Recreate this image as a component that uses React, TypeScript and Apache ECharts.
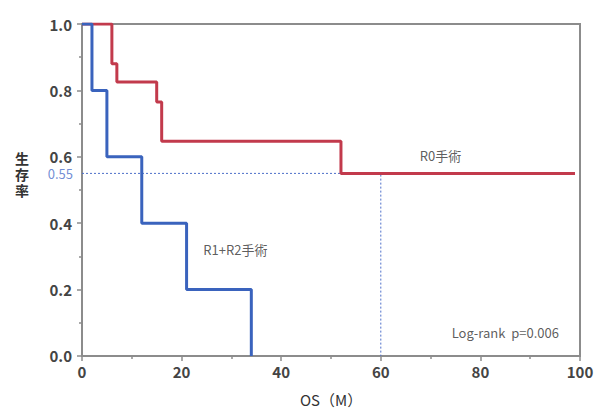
import React, { useEffect, useRef } from "react";
import * as echarts from "echarts";

const r0Times = [0, 6, 7, 15, 16, 52, 99];
const r0Surv = [1.0, 0.88, 0.825, 0.765, 0.647, 0.55, 0.55];
const r12Times = [0, 2, 5, 12, 21, 34];
const r12Surv = [1.0, 0.8, 0.6, 0.4, 0.2, 0.0];
const medianRef = [[0, 0.55], [60, 0.55], [60, 0]];
const xTicks = [0, 20, 40, 60, 80, 100];
const yTicks = [0, 0.2, 0.4, 0.6, 0.8, 1.0];
const annotations = [
  { text: "R0手術", x: 72, y: 0.604 },
  { text: "R1+R2手術", x: 30.8, y: 0.32 },
  { text: "Log-rank  p=0.006", x: 85, y: 0.071 },
];

const FONT = "'Noto Sans CJK JP', 'Noto Sans', sans-serif";
const RED = "#c23a4c";
const BLUE = "#3a63bd";
const DASH = "#4d6fc9";
const AXIS = "#8c8c8c";

export default function App() {
  const ref = useRef<HTMLDivElement>(null);
  useEffect(() => {
    if (!ref.current) return;
    const chart = echarts.init(ref.current, null, { renderer: "svg" });
    const pair = (t: number[], s: number[]) => t.map((v, i) => [v, s[i]]);
    const xMin = xTicks[0];
    const xMax = xTicks[xTicks.length - 1];
    const yMin = yTicks[0];
    const yMax = yTicks[yTicks.length - 1];
    chart.setOption({
      animation: false,
      textStyle: { fontFamily: FONT },
      grid: { left: 82, right: 17, top: 24, bottom: 50, show: true, borderColor: AXIS, borderWidth: 2, backgroundColor: "#fff" },
      xAxis: {
        type: "value",
        min: xMin,
        max: xMax,
        interval: 20,
        name: "OS（M）",
        nameLocation: "middle",
        nameGap: 36,
        nameTextStyle: { fontSize: 15, color: "#333", fontFamily: FONT },
        axisLine: { show: true, onZero: false, lineStyle: { color: AXIS, width: 2 } },
        axisTick: { show: true, length: 5, lineStyle: { color: AXIS, width: 1.5 } },
        minorTick: { show: true, splitNumber: 2, length: 3, lineStyle: { color: AXIS, width: 1.5 } },
        splitLine: { show: false },
        axisLabel: { fontSize: 15, fontWeight: "bold", color: "#444", margin: 8, fontFamily: FONT },
      },
      yAxis: {
        type: "value",
        min: yMin,
        max: yMax,
        interval: 0.2,
        axisLine: { show: true, onZero: false, lineStyle: { color: AXIS, width: 2 } },
        axisTick: { show: true, length: 5, lineStyle: { color: AXIS, width: 1.5 } },
        minorTick: { show: true, splitNumber: 2, length: 3, lineStyle: { color: AXIS, width: 1.5 } },
        splitLine: { show: false },
        axisLabel: {
          fontSize: 15,
          fontWeight: "bold",
          color: "#444",
          margin: 10,
          fontFamily: FONT,
          formatter: (v: number) => v.toFixed(1),
        },
      },
      series: [
        {
          name: "frame",
          type: "line",
          data: [[xMin, yMax], [xMax, yMax], [xMax, yMin]],
          showSymbol: false,
          symbol: "none",
          clip: false,
          silent: true,
          lineStyle: { color: AXIS, width: 2 },
          z: 2,
        },
        {
          type: "line",
          data: medianRef,
          showSymbol: false,
          symbol: "none",
          lineStyle: { color: DASH, width: 1, type: [2, 2] },
          z: 1,
        },
        {
          type: "line",
          step: "end",
          data: pair(r0Times, r0Surv),
          showSymbol: false,
          symbol: "none",
          lineStyle: { color: RED, width: 3 },
          z: 3,
        },
        {
          type: "line",
          step: "end",
          data: pair(r12Times, r12Surv),
          showSymbol: false,
          symbol: "none",
          lineStyle: { color: BLUE, width: 3 },
          z: 4,
        },
        {
          type: "scatter",
          symbolSize: 0,
          silent: true,
          data: [[0, 0.55]],
          label: {
            show: true,
            position: "left",
            distance: 9,
            formatter: "0.55",
            fontSize: 13,
            color: DASH,
            fontFamily: FONT,
          },
        },
        {
          type: "scatter",
          symbolSize: 0,
          silent: true,
          data: annotations.map((a) => ({ value: [a.x, a.y], name: a.text })),
          label: {
            show: true,
            position: "inside",
            formatter: (p: any) => p.name,
            fontSize: 13,
            color: "#333",
            fontFamily: FONT,
          },
        },
      ],
      graphic: [
        {
          type: "text",
          left: 15,
          top: 150,
          style: {
            text: "生\n存\n率",
            fontSize: 14,
            lineHeight: 16,
            fill: "#333",
            fontWeight: "bold",
            fontFamily: FONT,
          },
        },
      ],
    });
    return () => chart.dispose();
  }, []);
  return (
    <div
      ref={ref}
      style={{ position: "fixed", left: 0, top: 0, width: 597, height: 412, background: "#fff" }}
    />
  );
}
